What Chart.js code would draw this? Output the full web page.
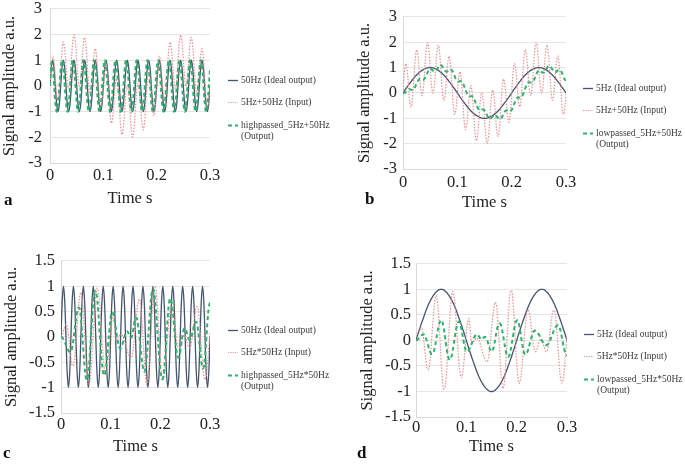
<!DOCTYPE html>
<html>
<head>
<meta charset="utf-8">
<script src="https://cdn.jsdelivr.net/npm/chart.js@4.4.1/dist/chart.umd.min.js"></script>
<style>
    body { margin: 0; width: 685px; height: 465px; background: #fff; position: relative; overflow: hidden; font-family: 'Liberation Serif', 'Times New Roman', serif; }
    canvas { position: absolute; }
    .legend { position: absolute; font-size: 9.5px; line-height: 11px; color: #3a3a3a; }
    .legend-item { display: flex; align-items: flex-start; margin-bottom: 11.5px; white-space: nowrap; }
    .legend-item svg { flex: none; margin-top: 4px; margin-right: 3px; }
    .legend-item .text { white-space: pre-line; }
    .panel-letter { position: absolute; font-weight: bold; font-size: 17px; line-height: 20px; color: #111; }
</style>
</head>
<body>
<canvas id="chartA" width="230" height="218" style="left:0px;top:-9px"></canvas>
<canvas id="chartB" width="231" height="212" style="left:355px;top:1px"></canvas>
<canvas id="chartC" width="228" height="212" style="left:2px;top:245px"></canvas>
<canvas id="chartD" width="229" height="208" style="left:358px;top:249px"></canvas>

<div class="legend" id="legendA" style="left:228px;top:74.5px"></div>
<div class="legend" id="legendB" style="left:583px;top:82.5px"></div>
<div class="legend" id="legendC" style="left:228px;top:324.5px"></div>
<div class="legend" id="legendD" style="left:584px;top:328.5px"></div>

<div class="panel-letter" style="left:4px;top:190px">a</div>
<div class="panel-letter" style="left:365px;top:189px">b</div>
<div class="panel-letter" style="left:3px;top:443px">c</div>
<div class="panel-letter" style="left:357px;top:443px">d</div>

<script>
// samples every 2.5 ms, 0 .. 0.3 s
const sampleStep = 0.0025;

const ideal50Hz = [
    0, 0.71, 1, 0.71, 0, -0.71, -1, -0.71,
    0, 0.71, 1, 0.71, 0, -0.71, -1, -0.71,
    0, 0.71, 1, 0.71, 0, -0.71, -1, -0.71,
    0, 0.71, 1, 0.71, 0, -0.71, -1, -0.71,
    0, 0.71, 1, 0.71, 0, -0.71, -1, -0.71,
    0, 0.71, 1, 0.71, 0, -0.71, -1, -0.71,
    0, 0.71, 1, 0.71, 0, -0.71, -1, -0.71,
    0, 0.71, 1, 0.71, 0, -0.71, -1, -0.71,
    0, 0.71, 1, 0.71, 0, -0.71, -1, -0.71,
    0, 0.71, 1, 0.71, 0, -0.71, -1, -0.71,
    0, 0.71, 1, 0.71, 0, -0.71, -1, -0.71,
    0, 0.71, 1, 0.71, 0, -0.71, -1, -0.71,
    0, 0.71, 1, 0.71, 0, -0.71, -1, -0.71,
    0, 0.71, 1, 0.71, 0, -0.71, -1, -0.71,
    0, 0.71, 1, 0.71, 0, -0.71, -1, -0.71,
    0
];

const ideal5Hz = [
    0, 0.08, 0.16, 0.23, 0.31, 0.38, 0.45, 0.52, 0.59, 0.65,
    0.71, 0.76, 0.81, 0.85, 0.89, 0.92, 0.95, 0.97, 0.99, 1,
    1, 1, 0.99, 0.97, 0.95, 0.92, 0.89, 0.85, 0.81, 0.76,
    0.71, 0.65, 0.59, 0.52, 0.45, 0.38, 0.31, 0.23, 0.16, 0.08,
    0, -0.08, -0.16, -0.23, -0.31, -0.38, -0.45, -0.52, -0.59, -0.65,
    -0.71, -0.76, -0.81, -0.85, -0.89, -0.92, -0.95, -0.97, -0.99, -1,
    -1, -1, -0.99, -0.97, -0.95, -0.92, -0.89, -0.85, -0.81, -0.76,
    -0.71, -0.65, -0.59, -0.52, -0.45, -0.38, -0.31, -0.23, -0.16, -0.08,
    0, 0.08, 0.16, 0.23, 0.31, 0.38, 0.45, 0.52, 0.59, 0.65,
    0.71, 0.76, 0.81, 0.85, 0.89, 0.92, 0.95, 0.97, 0.99, 1,
    1, 1, 0.99, 0.97, 0.95, 0.92, 0.89, 0.85, 0.81, 0.76,
    0.71, 0.65, 0.59, 0.52, 0.45, 0.38, 0.31, 0.23, 0.16, 0.08,
    0
];

// 5Hz+50Hz input (panels a, b)
const sumInput = [
    0, 0.79, 1.16, 0.94, 0.31, -0.33, -0.55, -0.19, 0.59, 1.36,
    1.71, 1.47, 0.81, 0.14, -0.11, 0.21, 0.95, 1.68, 1.99, 1.71,
    1, 0.29, -0.01, 0.26, 0.95, 1.63, 1.89, 1.56, 0.81, 0.05,
    -0.29, -0.06, 0.59, 1.23, 1.45, 1.09, 0.31, -0.48, -0.84, -0.63,
    0, 0.63, 0.84, 0.48, -0.31, -1.09, -1.45, -1.23, -0.59, 0.06,
    0.29, -0.05, -0.81, -1.56, -1.89, -1.63, -0.95, -0.26, 0.01, -0.29,
    -1, -1.71, -1.99, -1.68, -0.95, -0.21, 0.11, -0.14, -0.81, -1.47,
    -1.71, -1.36, -0.59, 0.19, 0.55, 0.33, -0.31, -0.94, -1.16, -0.79,
    0, 0.79, 1.16, 0.94, 0.31, -0.33, -0.55, -0.19, 0.59, 1.36,
    1.71, 1.47, 0.81, 0.14, -0.11, 0.21, 0.95, 1.68, 1.99, 1.71,
    1, 0.29, -0.01, 0.26, 0.95, 1.63, 1.89, 1.56, 0.81, 0.05,
    -0.29, -0.06, 0.59, 1.23, 1.45, 1.09, 0.31, -0.48, -0.84, -0.63,
    0
];

// 5Hz*50Hz input (panels c, d)
const productInput = [
    0, 0.03, 0.12, 0.20, 0.25, 0.21, 0.04, -0.19, -0.41, -0.56,
    -0.57, -0.42, -0.13, 0.22, 0.56, 0.79, 0.88, 0.77, 0.47, 0.05,
    -0.40, -0.76, -0.95, -0.93, -0.72, -0.35, 0.08, 0.48, 0.81, 0.96,
    0.90, 0.69, 0.35, -0.04, -0.39, -0.64, -0.73, -0.65, -0.44, -0.15,
    0.14, 0.35, 0.43, 0.25, -0.03, -0.05, -0.02, 0.02, 0.05, 0.04,
    0, -0.06, -0.15, -0.24, -0.32, -0.38, -0.42, -0.40, -0.27, -0.05,
    0.22, 0.46, 0.66, 0.75, 0.68, 0.40, -0.01, -0.42, -0.78, -0.94,
    -0.87, -0.58, -0.16, 0.31, 0.72, 0.96, 0.98, 0.79, 0.43, -0.01,
    -0.43, -0.73, -0.84, -0.77, -0.57, -0.28, 0.04, 0.33, 0.53, 0.60,
    0.54, 0.38, 0.17, -0.04, -0.18, -0.22, -0.18, -0.10, -0.02, 0.03,
    0.01, -0.06, -0.15, -0.21, -0.21, -0.12, 0.06, 0.27, 0.46, 0.58,
    0.59, 0.44, 0.16, -0.19, -0.52, -0.76, -0.84, -0.76, -0.53, -0.22,
    0.09
];

const highpassedSum = [
    0, 0.9, 0.76, 0.09, -0.64, -1, -0.76, -0.09, 0.64,
    1, 0.76, 0.09, -0.64, -1, -0.76, -0.09, 0.64,
    1, 0.76, 0.09, -0.64, -1, -0.76, -0.09, 0.64,
    1, 0.76, 0.09, -0.64, -1, -0.76, -0.09, 0.64,
    1, 0.76, 0.09, -0.64, -1, -0.76, -0.09, 0.64,
    1, 0.76, 0.09, -0.64, -1, -0.76, -0.09, 0.64,
    1, 0.76, 0.09, -0.64, -1, -0.76, -0.09, 0.64,
    1, 0.76, 0.09, -0.64, -1, -0.76, -0.09, 0.64,
    1, 0.76, 0.09, -0.64, -1, -0.76, -0.09, 0.64,
    1, 0.76, 0.09, -0.64, -1, -0.76, -0.09, 0.64,
    1, 0.76, 0.09, -0.64, -1, -0.76, -0.09, 0.64,
    1, 0.76, 0.09, -0.64, -1, -0.76, -0.09, 0.64,
    1, 0.76, 0.09, -0.64, -1, -0.76, -0.09, 0.64,
    1, 0.76, 0.09, -0.64, -1, -0.76, -0.09, 0.64,
    1, 0.76, 0.09, -0.64, -1, -0.76, -0.09, 0.64
];

const lowpassedSum = [
    0, 0, 0.03, 0.09, 0.13, 0.15, 0.12, 0.12, 0.15, 0.25,
    0.38, 0.47, 0.55, 0.56, 0.53, 0.52, 0.57, 0.67, 0.80, 0.90,
    0.96, 0.93, 0.88, 0.85, 0.86, 0.93, 1.02, 1.09, 1.10, 1.04,
    0.95, 0.87, 0.84, 0.86, 0.91, 0.92, 0.90, 0.80, 0.66, 0.54,
    0.47, 0.45, 0.47, 0.46, 0.40, 0.27, 0.13, -0.01, -0.10, -0.13,
    -0.13, -0.13, -0.20, -0.32, -0.47, -0.59, -0.67, -0.68, -0.66, -0.65,
    -0.69, -0.77, -0.89, -0.98, -1.02, -0.99, -0.93, -0.88, -0.87, -0.92,
    -0.99, -1.03, -1.02, -0.94, -0.83, -0.73, -0.69, -0.69, -0.72, -0.72,
    -0.67, -0.55, -0.41, -0.28, -0.20, -0.17, -0.19, -0.17, -0.10, 0.03,
    0.19, 0.31, 0.40, 0.42, 0.41, 0.41, 0.47, 0.58, 0.72, 0.83,
    0.89, 0.87, 0.83, 0.80, 0.82, 0.89, 0.99, 1.06, 1.07, 1.02,
    0.93, 0.85, 0.82, 0.84, 0.89, 0.91, 0.89, 0.79, 0.66, 0.54,
    0.47
];

const highpassedProduct = [
    0, -0.01, -0.05, -0.10, -0.16, -0.22, -0.27, -0.30, -0.29, -0.21,
    -0.06, 0.15, 0.34, 0.50, 0.58, 0.56, 0.38, 0.08, -0.27, -0.58,
    -0.80, -0.85, -0.72, -0.43, -0.04, 0.35, 0.69, 0.88, 0.91, 0.77,
    0.50, 0.15, -0.21, -0.51, -0.71, -0.76, -0.66, -0.42, -0.14, 0.15,
    0.39, 0.49, 0.46, 0.36, 0.20, 0.02, -0.12, -0.21, -0.23, -0.18,
    -0.10, -0.01, 0.07, 0.11, 0.09, 0.03, -0.01, 0, 0.12, 0.28,
    0.38, 0.37, 0.25, 0.04, -0.20, -0.42, -0.60, -0.69, -0.63, -0.42,
    -0.10, 0.28, 0.62, 0.86, 0.95, 0.87, 0.66, 0.34, -0.02, -0.36,
    -0.66, -0.82, -0.83, -0.67, -0.35, 0.03, 0.40, 0.67, 0.76, 0.69,
    0.50, 0.23, -0.05, -0.28, -0.40, -0.39, -0.29, -0.12, 0.05, 0.16,
    0.17, 0.11, 0.02, -0.05, -0.05, 0, 0.10, 0.20, 0.28, 0.30,
    0.20, -0.01, -0.27, -0.49, -0.62, -0.59, -0.38, -0.05, 0.31, 0.58,
    0.68
];

const lowpassedProduct = [
    0, 0.01, 0.03, 0.06, 0.09, 0.11, 0.12, 0.10, 0.04, -0.04,
    -0.13, -0.21, -0.26, -0.27, -0.23, -0.13, 0.01, 0.15, 0.28, 0.37,
    0.40, 0.36, 0.24, 0.08, -0.10, -0.26, -0.35, -0.38, -0.33, -0.22,
    -0.07, 0.09, 0.24, 0.33, 0.37, 0.34, 0.24, 0.10, -0.04, -0.15,
    -0.21, -0.22, -0.19, -0.14, -0.08, -0.01, 0.05, 0.09, 0.12, 0.11,
    0.08, 0.04, 0.02, 0.03, 0.06, 0.07, 0.04, -0.03, -0.12, -0.19,
    -0.22, -0.19, -0.10, 0.03, 0.17, 0.28, 0.33, 0.33, 0.25, 0.13,
    -0.02, -0.16, -0.27, -0.32, -0.30, -0.21, -0.08, 0.07, 0.22, 0.34,
    0.39, 0.39, 0.30, 0.16, -0.01, -0.15, -0.25, -0.28, -0.25, -0.19,
    -0.10, 0, 0.08, 0.15, 0.19, 0.19, 0.17, 0.14, 0.10, 0.05,
    0, -0.04, -0.07, -0.09, -0.09, -0.07, -0.03, 0.03, 0.09, 0.16,
    0.22, 0.26, 0.29, 0.30, 0.26, 0.17, 0.05, -0.08, -0.19, -0.27,
    -0.30
];

const time = ideal50Hz.map((v, i) => +(i * sampleStep).toFixed(4));
const timeTicks = [0, 0.1, 0.2, 0.3];

const idealColor = '#45546f';
const inputColor = '#e89090';
const outputColor = '#2fb26e';

Chart.defaults.font.family = "'Liberation Serif', 'Times New Roman', serif";
Chart.defaults.color = '#222';

function toPoints(values) {
    return values.map((v, i) => ({ x: time[i], y: v }));
}

function buildLegend(chart, el) {
    chart.data.datasets.forEach(ds => {
        const item = document.createElement('div');
        item.className = 'legend-item';
        const dash = ds.borderDash ? ds.legendDash : 'none';
        item.innerHTML = `
            <svg width="10" height="3"><line x1="0" y1="1.5" x2="10" y2="1.5"
                stroke="${ds.borderColor}" stroke-width="${ds.borderWidth}" stroke-dasharray="${dash}"/></svg>
            <span class="text">${ds.label}</span>`;
        el.appendChild(item);
    });
}

function makePanel(canvasId, legendId, labels, series, layout) {
    const datasets = [
        { label: labels[0], data: toPoints(series[0]), borderColor: idealColor, borderWidth: 1.3, order: 3 },
        { label: labels[1], data: toPoints(series[1]), borderColor: inputColor, borderWidth: 1.2, borderDash: [1.5, 1.5], legendDash: '1.2,1.2', order: 2 },
        { label: labels[2], data: toPoints(series[2]), borderColor: outputColor, borderWidth: 2, borderDash: [4, 3], legendDash: '4,3', order: 1 }
    ];
    datasets.forEach(ds => { ds.pointRadius = 0; ds.tension = 0.4; ds.fill = false; });

    const chart = new Chart(document.getElementById(canvasId), {
        type: 'line',
        data: { datasets: datasets },
        options: {
            responsive: false,
            animation: false,
            devicePixelRatio: 1,
            layout: { padding: { top: 0, right: 20, bottom: 0, left: 0 } },
            plugins: { legend: { display: false }, tooltip: { enabled: false } },
            scales: {
                x: {
                    type: 'linear',
                    min: 0,
                    max: 0.3,
                    afterBuildTicks: axis => { axis.ticks = timeTicks.map(v => ({ value: v })); },
                    afterFit: axis => { axis.height = layout.xHeight; },
                    grid: { display: false, drawTicks: false },
                    border: { color: '#d9d9d9', width: 1 },
                    ticks: {
                        padding: layout.xPad,
                        maxRotation: 0,
                        font: { size: 16.5 },
                        callback: v => v === 0 ? '0' : v.toFixed(1)
                    },
                    title: { display: true, text: 'Time s', font: { size: 16.5 }, padding: 0 }
                },
                y: {
                    min: layout.yMin,
                    max: layout.yMax,
                    afterFit: axis => { axis.width = layout.yWidth; },
                    grid: { color: '#e6e6e6', drawTicks: false },
                    border: { color: '#d9d9d9', width: 1 },
                    ticks: {
                        stepSize: layout.yStep,
                        padding: layout.yPad,
                        font: { size: 16.5 },
                        callback: v => String(v)
                    },
                    title: { display: true, text: 'Signal amplitude a.u.', font: { size: 16.5 }, padding: 0 }
                }
            }
        }
    });
    buildLegend(chart, document.getElementById(legendId));
}

makePanel('chartA', 'legendA',
    ['50Hz (Ideal output)', '5Hz+50Hz (Input)', 'highpassed_5Hz+50Hz\n(Output)'],
    [ideal50Hz, sumInput, highpassedSum],
    { yMin: -3, yMax: 3, yStep: 1, yWidth: 50, yPad: 8, xHeight: 46, xPad: 3 });

makePanel('chartB', 'legendB',
    ['5Hz (Ideal output)', '5Hz+50Hz (Input)', 'lowpassed_5Hz+50Hz\n(Output)'],
    [ideal5Hz, sumInput, lowpassedSum],
    { yMin: -3, yMax: 3, yStep: 1, yWidth: 48, yPad: 6, xHeight: 44, xPad: 4 });

makePanel('chartC', 'legendC',
    ['50Hz (Ideal output)', '5Hz*50Hz (Input)', 'highpassed_5Hz*50Hz\n(Output)'],
    [ideal50Hz, productInput, highpassedProduct],
    { yMin: -1.5, yMax: 1.5, yStep: 0.5, yWidth: 59, yPad: 6, xHeight: 44, xPad: 2 });

makePanel('chartD', 'legendD',
    ['5Hz (Ideal output)', '5Hz*50Hz (Input)', 'lowpassed_5Hz*50Hz\n(Output)'],
    [ideal5Hz, productInput, lowpassedProduct],
    { yMin: -1.5, yMax: 1.5, yStep: 0.5, yWidth: 58, yPad: 5, xHeight: 40, xPad: 1 });
</script>
</body>
</html>
